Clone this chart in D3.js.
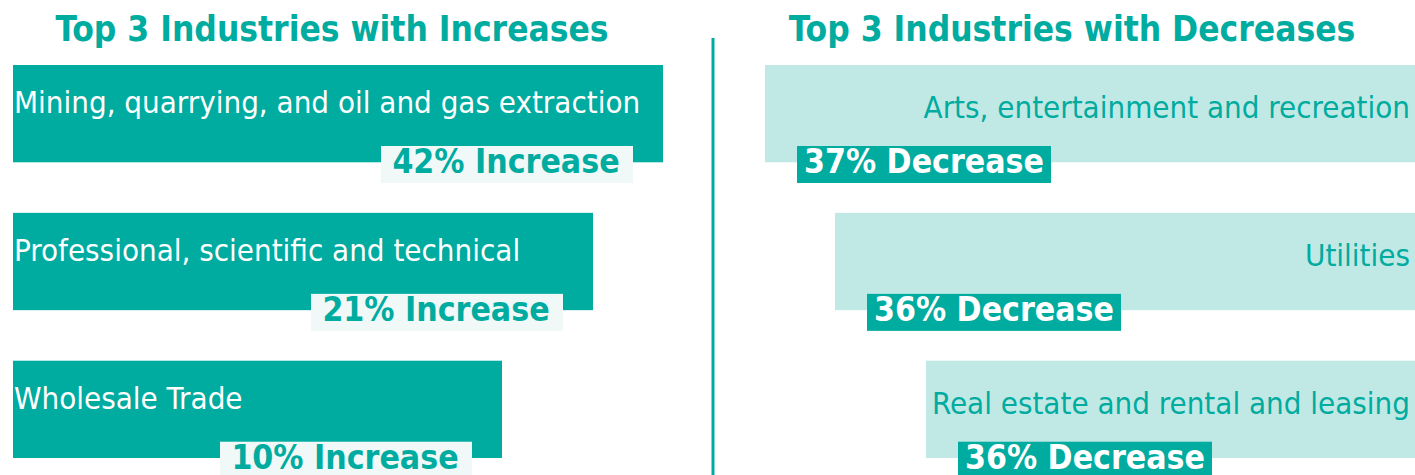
<!DOCTYPE html>
<html>
<head>
<meta charset="utf-8">
<script src="https://cdn.jsdelivr.net/npm/d3@7"></script>
<style>
  html, body { margin: 0; padding: 0; background: #ffffff; }
  svg { display: block; }
  text { font-family: "DejaVu Sans Condensed", "DejaVu Sans", sans-serif; }
</style>
</head>
<body>
<svg id="chart" width="1415" height="475"></svg>
<script>
// Industries with the largest increases and decreases
const increaseIndustries = [
  "Mining, quarrying, and oil and gas extraction",
  "Professional, scientific and technical",
  "Wholesale Trade"
];
const increaseValues = [42, 21, 10];

const decreaseIndustries = [
  "Arts, entertainment and recreation",
  "Utilities",
  "Real estate and rental and leasing"
];
const decreaseValues = [37, 36, 36];

const panelTitles = ["Top 3 Industries with Increases", "Top 3 Industries with Decreases"];

const TEAL = "#00ab9f";
const LIGHT = "#c0e9e6";
const PALE = "#f0f9f8";

const W = 1415, H = 475;
const svg = d3.select("#chart");

// rows share the same vertical bands on both sides
const y = d3.scaleBand()
  .domain(d3.range(3))
  .range([65, 458])
  .paddingInner(0.342)
  .paddingOuter(0);

// bar length follows rank within each panel
const barLen = d3.scaleOrdinal()
  .domain(d3.range(3))
  .range([650, 580, 489]);

const badgeW = 252, badgeH = 37;
const titleSize = 35, nameSize = 31, badgeSize = 33.5;

// ---------- left panel: increases ----------
const left = svg.append("g");
left.append("text")
  .attr("x", 332).attr("y", 41)
  .attr("text-anchor", "middle")
  .attr("font-weight", "bold")
  .attr("font-size", titleSize)
  .attr("fill", TEAL)
  .text(panelTitles[0]);

const lx0 = 13;
const lRows = left.selectAll("g.row")
  .data(increaseIndustries.map((name, i) => ({ name, value: increaseValues[i], i })))
  .join("g").attr("class", "row");

lRows.append("rect")
  .attr("x", lx0)
  .attr("y", d => y(d.i))
  .attr("width", d => barLen(d.i))
  .attr("height", y.bandwidth())
  .attr("fill", TEAL);

lRows.append("text")
  .attr("x", lx0 + 1)
  .attr("y", d => y(d.i) + 48)
  .attr("font-size", nameSize)
  .attr("fill", "#ffffff")
  .text(d => d.name);

lRows.append("rect")
  .attr("x", d => lx0 + barLen(d.i) - 30 - badgeW)
  .attr("y", d => y(d.i) + 81)
  .attr("width", badgeW)
  .attr("height", badgeH)
  .attr("fill", PALE);

lRows.append("text")
  .attr("x", d => lx0 + barLen(d.i) - 31 - badgeW / 2)
  .attr("y", d => y(d.i) + 108)
  .attr("text-anchor", "middle")
  .attr("font-size", badgeSize)
  .attr("font-weight", "bold")
  .attr("fill", TEAL)
  .text(d => `${d.value}% Increase`);

// divider between the two panels
svg.append("line")
  .attr("x1", 713).attr("x2", 713)
  .attr("y1", 38).attr("y2", H)
  .attr("stroke", TEAL)
  .attr("stroke-width", 3);

// ---------- right panel: decreases ----------
const right = svg.append("g");
right.append("text")
  .attr("x", 1072).attr("y", 41)
  .attr("text-anchor", "middle")
  .attr("font-weight", "bold")
  .attr("font-size", titleSize)
  .attr("fill", TEAL)
  .text(panelTitles[1]);

const rx1 = W;
const rRows = right.selectAll("g.row")
  .data(decreaseIndustries.map((name, i) => ({ name, value: decreaseValues[i], i })))
  .join("g").attr("class", "row");

rRows.append("rect")
  .attr("x", d => rx1 - barLen(d.i))
  .attr("y", d => y(d.i))
  .attr("width", d => barLen(d.i))
  .attr("height", y.bandwidth())
  .attr("fill", LIGHT);

rRows.append("text")
  .attr("x", rx1 - 5)
  .attr("y", d => y(d.i) + 53)
  .attr("text-anchor", "end")
  .attr("font-size", nameSize)
  .attr("fill", TEAL)
  .text(d => d.name);

rRows.append("rect")
  .attr("x", d => rx1 - barLen(d.i) + 32)
  .attr("y", d => y(d.i) + 81)
  .attr("width", badgeW + 2)
  .attr("height", badgeH)
  .attr("fill", TEAL);

rRows.append("text")
  .attr("x", d => rx1 - barLen(d.i) + 32 + (badgeW + 2) / 2)
  .attr("y", d => y(d.i) + 108)
  .attr("text-anchor", "middle")
  .attr("font-size", badgeSize)
  .attr("font-weight", "bold")
  .attr("fill", "#ffffff")
  .text(d => `${d.value}% Decrease`);
</script>
</body>
</html>
